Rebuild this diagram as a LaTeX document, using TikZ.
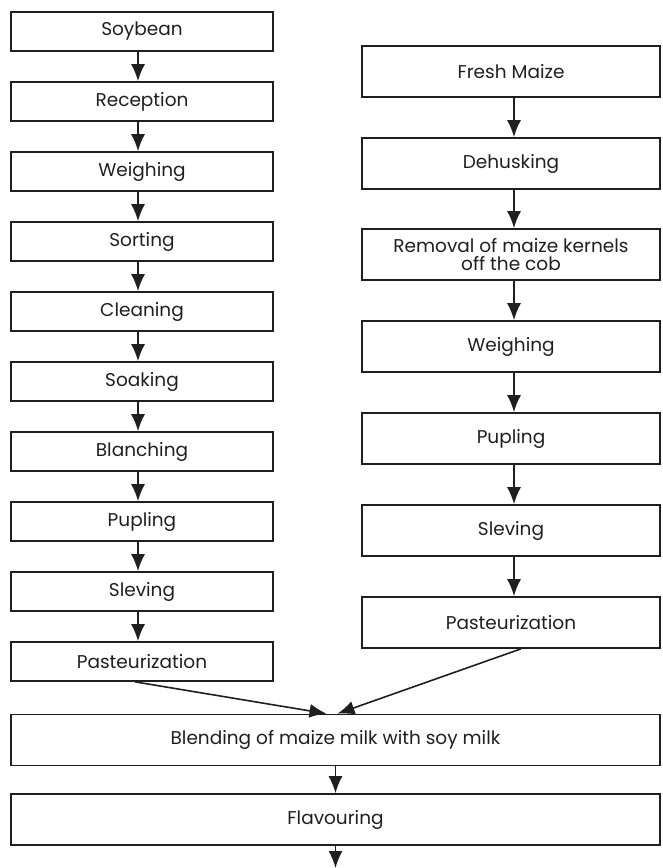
\documentclass[tikz,border=0pt]{standalone}
\usepackage{fontspec}
\setmainfont{Poppins}
\usetikzlibrary{arrows.meta}
\begin{document}
\begin{tikzpicture}[x=1pt,y=-1pt,
  box/.style={draw=black!88,line width=1.7pt,rectangle,inner sep=0pt,align=center,font=\fontsize{18.5}{20}\selectfont,text=black!88},
  lbox/.style={box,minimum width=262pt,minimum height=39pt},
  rbox/.style={box,minimum width=298pt,minimum height=51pt},
  wbox/.style={box,minimum width=649pt,minimum height=51pt},
  flow/.style={line width=1.6pt,draw=black!88,-{Latex[length=17pt,width=14pt]}}]
\useasboundingbox (0,0) rectangle (662,868);
% left column
\node[lbox] (l1) at (142,31.5) {Soybean};
\node[lbox] (l2) at (142,101.5) {Reception};
\node[lbox] (l3) at (142,171.5) {Weighing};
\node[lbox] (l4) at (142,241.5) {Sorting};
\node[lbox] (l5) at (142,311.5) {Cleaning};
\node[lbox] (l6) at (142,381.5) {Soaking};
\node[lbox] (l7) at (142,451.5) {Blanching};
\node[lbox] (l8) at (142,521.5) {Pupling};
\node[lbox] (l9) at (142,591.5) {Sleving};
\node[lbox] (l10) at (142,661.5) {Pasteurization};
% right column
\node[rbox] (r1) at (511,71.5) {Fresh Maize};
\node[rbox] (r2) at (511,163.5) {Dehusking};
\node[rbox,font=\fontsize{18.5}{18}\selectfont] (r3) at (511,254.5) {Removal of maize kernels\\off the cob};
\node[rbox] (r4) at (511,346.5) {Weighing};
\node[rbox] (r5) at (511,438.5) {Pupling};
\node[rbox] (r6) at (511,530.5) {Sleving};
\node[rbox] (r7) at (511,622.5) {Pasteurization};
% bottom
\node[wbox] (b1) at (335.5,740) {Blending of maize milk with soy milk};
\node[wbox] (b2) at (335.5,819.5) {Flavouring};
\coordinate (end) at (335.5,868);
% arrows
\foreach \a/\b in {l1/l2,l2/l3,l3/l4,l4/l5,l5/l6,l6/l7,l7/l8,l8/l9,l9/l10}
  \draw[flow] ([xshift=-4pt]\a.south) -- ([xshift=-4pt]\b.north);
\foreach \a/\b in {r1/r2,r2/r3,r3/r4,r4/r5,r5/r6,r6/r7}
  \draw[flow] ([xshift=3pt]\a.south) -- ([xshift=3pt]\b.north);
\draw[flow] ([xshift=-7pt]l10.south) -- ([xshift=-9pt]b1.north);
\draw[flow] ([xshift=10pt]r7.south) -- ([xshift=2pt]b1.north);
\draw[flow] (b1.south) -- (b2.north);
\draw[flow] (b2.south) -- (end);
\end{tikzpicture}
\end{document}
